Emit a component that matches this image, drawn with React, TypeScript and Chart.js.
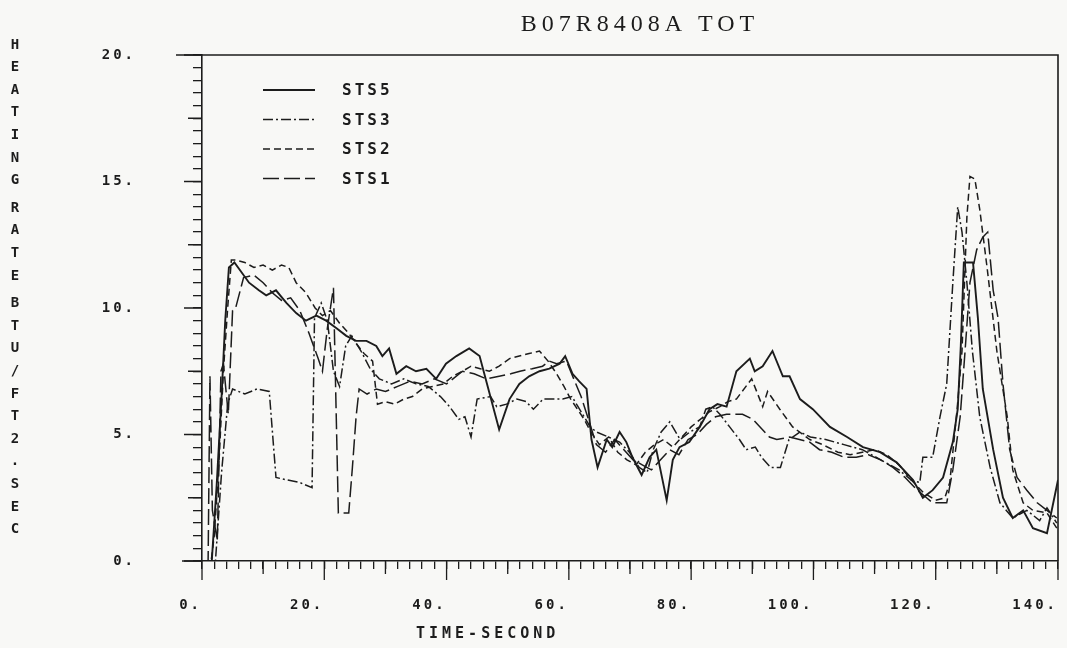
import React, { useEffect, useRef } from 'react';
import { Chart, registerables } from 'chart.js';

Chart.register(...registerables);

const INK = '#1c1c1c';
const PAPER = '#f8f8f6';
const MONO = '"DejaVu Sans Mono", monospace';

const chartTitle = 'B07R8408A TOT';
const xAxisTitle = 'TIME-SECOND';
const yAxisTitle = 'HEATING RATE BTU/FT2.SEC';
const seriesLabels = ['STS5', 'STS3', 'STS2', 'STS1'];
const seriesDashes = [[], [10, 3, 2, 3], [7, 4], [16, 5]];
const xTickLabels = ['0.', '20.', '40.', '60.', '80.', '100.', '120.', '140.'];
const yTickLabels = ['0.', '5.', '10.', '15.', '20.'];

// STS5 (solid)
const sts5Time = [0, 1.6, 2.4, 3.2, 3.8, 4.4, 5.3, 7.7, 9.3, 10.5, 12.1, 13.8, 15.4, 17, 18.7, 20.3, 22, 23.6, 25.2, 26.9, 28.5, 29.5, 30.6, 31.8, 33.4, 35, 36.7, 38.3, 39.9, 41.6, 43.7, 45.4, 48.6, 50.3, 51.9, 53.5, 55.2, 56.8, 58.5, 59.4, 60.6, 61.7, 62.9, 63.7, 64.7, 66.2, 67.1, 68.3, 69.4, 70.4, 71.9, 73.2, 74.3, 76, 77, 78.1, 79.7, 81.4, 83, 84.3, 85.8, 87.4, 89.6, 90.4, 91.7, 93.3, 95, 96.1, 97.8, 99.9, 102.7, 105.5, 108.1, 110.9, 113.6, 116.3, 117.9, 119.5, 121.2, 122.8, 123.6, 124.1, 124.6, 126.1, 126.9, 127.7, 129.4, 131, 132.6, 134.3, 135.9, 138.2, 140];
const sts5Rate = [0, 0, 3, 6.5, 9.5, 11.6, 11.8, 11.0, 10.7, 10.5, 10.7, 10.2, 9.8, 9.5, 9.7, 9.5, 9.2, 8.9, 8.7, 8.7, 8.5, 8.1, 8.4, 7.4, 7.7, 7.5, 7.6, 7.2, 7.8, 8.1, 8.4, 8.1, 5.2, 6.4, 7.0, 7.3, 7.5, 7.6, 7.8, 8.1, 7.4, 7.1, 6.8, 4.8, 3.7, 4.8, 4.5, 5.1, 4.7, 4.1, 3.4, 4.1, 4.4, 2.4, 4.0, 4.5, 4.7, 5.3, 6.0, 6.2, 6.1, 7.5, 8.0, 7.5, 7.7, 8.3, 7.3, 7.3, 6.4, 6.0, 5.3, 4.9, 4.5, 4.3, 3.9, 3.2, 2.5, 2.8, 3.3, 4.7, 6.0, 8.5, 11.8, 11.8, 9.6, 6.8, 4.4, 2.5, 1.7, 2.0, 1.3, 1.1, 3.2];

// STS3 (dash-dot)
const sts3Time = [0, 2.2, 3.2, 4.2, 5, 7, 9, 11, 12.1, 14, 16, 18, 18.4, 19.5, 20.5, 21.5, 22.5, 23.5, 24.5, 26, 27.5, 29, 31, 33, 35, 37, 39, 40.5, 42, 43, 44, 45, 47.2, 48.2, 49.8, 51.5, 53, 54.2, 55.8, 57.5, 59, 60.5, 61.5, 62.5, 63.5, 64.5, 66.5, 68.3, 69.9, 71.5, 72.8, 73.8, 75.1, 76.5, 78.2, 79.8, 81.4, 82.4, 83.5, 84.7, 86.3, 87.9, 89, 90.5, 91.5, 93, 94.6, 96, 97.8, 99.5, 102, 105, 108, 111, 114, 116, 117.4, 117.9, 119.5, 120.7, 121.8, 122.8, 123.6, 124.3, 125.1, 126, 127.2, 128.9, 130.5, 132.6, 134.9, 137, 138.2, 139.8];
const sts3Rate = [0, 0, 3.5, 6.2, 6.8, 6.6, 6.8, 6.7, 3.3, 3.2, 3.1, 2.9, 9.6, 10.2, 9.5, 7.5, 6.9, 8.5, 8.9, 8.3, 7.6, 7.2, 7.0, 7.2, 7.0, 6.9, 6.5, 6.1, 5.6, 5.7, 4.9, 6.4, 6.5, 6.1, 6.2, 6.4, 6.3, 6.0, 6.4, 6.4, 6.4, 6.5, 6.1, 5.7, 5.3, 5.1, 4.9, 4.7, 4.3, 3.7, 3.5, 4.4, 5.1, 5.5, 4.8, 5.1, 5.3, 6.0, 6.1, 5.8, 5.3, 4.8, 4.4, 4.5, 4.1, 3.7, 3.7, 4.8, 5.1, 4.9, 4.8, 4.6, 4.4, 4.0, 3.6, 3.2, 3.1, 4.1, 4.1, 5.7, 7.0, 11.0, 14.0, 13.0, 11.0, 8.3, 5.7, 3.7, 2.3, 1.7, 2.0, 1.6, 2.1, 1.5];

// STS2 (short dash)
const sts2Time = [0, 1.5, 2.0, 2.8, 3.5, 4.2, 4.8, 5.5, 7, 8.5, 10, 11.5, 13, 14.2, 15.4, 17, 18.5, 19.7, 21, 22.5, 24, 25.2, 26.5, 27.9, 28.7, 30, 31.5, 33, 34.4, 36, 37.7, 39.5, 41, 42.6, 44, 45.5, 47, 48.6, 50.3, 51.9, 53.5, 55.2, 56.6, 58, 59.2, 60.3, 61.4, 62.5, 63.6, 65, 66.5, 68, 69.5, 71, 72.5, 74, 75.5, 77, 78.5, 80, 81.5, 83, 84.7, 86, 87.4, 89.9, 91.7, 92.5, 94.5, 96.6, 99.4, 101.5, 104, 106, 108, 110, 112, 114, 116, 118, 120, 121.5, 122.3, 123.5, 124.3, 125.1, 125.6, 126.4, 127.2, 128.4, 130, 131.7, 132.6, 134.3, 135.9, 138.2, 139.8];
const sts2Rate = [0, 0, 1.0, 4.0, 7.5, 10.0, 11.9, 11.9, 11.8, 11.6, 11.7, 11.5, 11.7, 11.6, 11.0, 10.6, 10.0, 9.7, 9.9, 9.4, 9.0, 8.6, 8.2, 7.9, 6.2, 6.3, 6.2, 6.4, 6.5, 6.8, 6.9, 7.0, 7.3, 7.5, 7.7, 7.6, 7.5, 7.7, 8.0, 8.1, 8.2, 8.3, 7.9, 7.4, 6.9, 6.4, 6.0, 5.6, 5.1, 4.6, 4.9, 4.3, 4.0, 3.8, 4.3, 4.6, 4.8, 4.5, 4.9, 5.3, 5.6, 5.9, 6.1, 6.3, 6.4, 7.2, 6.1, 6.7, 6.0, 5.3, 4.8, 4.6, 4.3, 4.2, 4.3, 4.4, 4.2, 3.8, 3.2, 2.7, 2.4, 2.5, 3.1, 6.0, 8.3, 13.6, 15.2, 15.1, 13.9, 11.6, 8.3, 5.7, 3.6, 2.3, 2.0, 1.9, 1.3];

// STS1 (long dash)
const sts1Time = [0, 1.0, 1.3, 1.7, 2.5, 3.1, 3.5, 4.3, 5.0, 5.5, 6.8, 8.5, 10, 11.5, 13, 14.5, 16, 17.5, 19, 19.7, 20.5, 21.5, 22.3, 24, 24.6, 25.2, 25.7, 27, 28.5, 30, 32, 34, 36, 38, 40, 42.6, 44.5, 46.5, 48.6, 50.5, 52, 54, 55.7, 56.8, 58, 59.6, 60.8, 62, 63.2, 64.5, 66, 67.5, 69, 70.5, 72, 73.5, 75, 76.5, 78, 79.5, 81, 82.5, 84, 85.8, 88.4, 90.1, 92.8, 94, 96.1, 99.4, 101, 103, 105, 107, 109, 111, 113, 115, 117, 118.5, 119.5, 121.8, 122.8, 124, 124.8, 125.6, 126.7, 127.7, 128.5, 129.4, 130.2, 131, 132.1, 133.3, 134.9, 136.6, 138.2, 139.8];
const sts1Rate = [0, 0, 7.3, 2.0, 0.8, 7.5, 7.8, 5.8, 9.9, 10.0, 11.2, 11.3, 11.0, 10.6, 10.3, 10.4, 9.9, 9.0, 8.0, 7.5, 9.2, 10.8, 1.9, 1.9, 3.7, 5.7, 6.8, 6.6, 6.8, 6.7, 6.9, 7.1, 7.0, 7.2, 7.0, 7.5, 7.4, 7.2, 7.3, 7.4, 7.5, 7.6, 7.7, 7.9, 7.8, 7.9, 7.2, 6.5, 5.6, 4.6, 4.3, 4.8, 4.4, 4.0, 3.8, 3.6, 4.0, 4.4, 4.2, 4.8, 5.0, 5.4, 5.7, 5.8, 5.8, 5.6, 4.9, 4.8, 4.9, 4.7, 4.4, 4.3, 4.1, 4.1, 4.2, 4.0, 3.7, 3.3, 2.8, 2.5, 2.3, 2.3, 3.6, 5.7, 8.3, 11.0, 12.3, 12.8, 13.0, 10.7, 9.6, 7.0, 4.4, 3.3, 2.8, 2.3, 2.0, 1.7];

const seriesTimes = [sts5Time, sts3Time, sts2Time, sts1Time];
const seriesRates = [sts5Rate, sts3Rate, sts2Rate, sts1Rate];
const seriesWidths = [1.9, 1.5, 1.5, 1.5];

const near = (v: number, step: number) => Math.abs(v / step - Math.round(v / step)) < 1e-6;

const inkPlugin = {
  id: 'ink',
  beforeDraw(chart: any) {
    const ctx = chart.ctx;
    ctx.save();
    ctx.fillStyle = PAPER;
    ctx.fillRect(0, 0, chart.width, chart.height);
    ctx.restore();
    ctx.letterSpacing = '3px';
  },
  afterDraw(chart: any) {
    const ctx = chart.ctx;
    const a = chart.chartArea;
    const xs = chart.scales.x;
    const ys = chart.scales.y;
    ctx.save();
    ctx.letterSpacing = '0px';
    ctx.strokeStyle = INK;
    ctx.fillStyle = INK;
    ctx.setLineDash([]);
    // frame
    ctx.lineWidth = 1.6;
    ctx.beginPath();
    ctx.moveTo(a.left - 26, a.top);
    ctx.lineTo(a.right, a.top);
    ctx.lineTo(a.right, a.bottom);
    ctx.moveTo(a.left - 20, a.bottom);
    ctx.lineTo(a.left, a.bottom);
    ctx.stroke();
    // longer tick marks at 10 / 20 on x, 2.5 / 5 on y
    ctx.lineWidth = 1.3;
    ctx.beginPath();
    for (let v = xs.min; v <= xs.max + 1e-6; v += 10) {
      const px = xs.getPixelForValue(v);
      const len = near(v, 20) ? 19 : 13;
      ctx.moveTo(px, a.bottom);
      ctx.lineTo(px, a.bottom + len);
    }
    for (let v = ys.min; v <= ys.max + 1e-6; v += 2.5) {
      const py = ys.getPixelForValue(v);
      const len = near(v, 5) ? 18 : 14;
      ctx.moveTo(a.left, py);
      ctx.lineTo(a.left - len, py);
    }
    ctx.stroke();

    // title
    ctx.font = '24px "Liberation Serif", serif';
    ctx.letterSpacing = '5px';
    ctx.textAlign = 'center';
    ctx.textBaseline = 'alphabetic';
    ctx.fillText(chartTitle, 640, 31);

    // y axis title, one character per row
    ctx.font = 'bold 14px ' + MONO;
    ctx.letterSpacing = '0px';
    ctx.textAlign = 'center';
    ctx.textBaseline = 'middle';
    let y = 45;
    for (const ch of yAxisTitle) {
      if (ch === ' ') { y += 5; continue; }
      ctx.fillText(ch, 15, y);
      y += 22.6;
    }

    // x axis title
    ctx.font = 'bold 15px ' + MONO;
    ctx.letterSpacing = '4px';
    ctx.textAlign = 'left';
    ctx.fillText(xAxisTitle, 416, 634);

    // legend
    ctx.font = 'bold 16px ' + MONO;
    ctx.letterSpacing = '3px';
    chart.data.datasets.forEach((ds: any, i: number) => {
      const ly = a.top + 35 + i * 29.5;
      ctx.setLineDash(ds.borderDash || []);
      ctx.lineWidth = ds.borderWidth;
      ctx.beginPath();
      ctx.moveTo(a.left + 61, ly);
      ctx.lineTo(a.left + 113, ly);
      ctx.stroke();
      ctx.setLineDash([]);
      ctx.fillText(ds.label, a.left + 140, ly + 1);
    });
    ctx.restore();
  },
};

export default function App() {
  const ref = useRef<HTMLCanvasElement>(null);
  useEffect(() => {
    const canvas = ref.current as HTMLCanvasElement;
    const datasets = seriesLabels.map((label, i) => ({
      label,
      data: seriesTimes[i].map((t, j) => ({ x: t, y: seriesRates[i][j] })),
      borderColor: INK,
      backgroundColor: INK,
      borderWidth: seriesWidths[i],
      borderDash: seriesDashes[i],
      pointRadius: 0,
      tension: 0,
      fill: false,
    }));
    const tickFont = { family: MONO, size: 14, weight: 'bold' };
    const chart = new Chart(canvas, {
      type: 'line',
      data: { datasets },
      options: {
        animation: false,
        responsive: false,
        devicePixelRatio: 1,
        layout: { padding: { left: 62, top: 55, right: 9, bottom: 37 } },
        plugins: { legend: { display: false }, title: { display: false }, tooltip: { enabled: false } },
        scales: {
          x: {
            type: 'linear',
            min: 0,
            max: 140,
            afterFit: (s: any) => { s.height = 50; s.paddingLeft = 0; s.paddingRight = 0; },
            border: { display: true, color: INK, width: 1.6 },
            grid: { display: true, drawOnChartArea: false, drawTicks: true, tickLength: 8, color: INK, lineWidth: 1.3 },
            ticks: {
              stepSize: 2,
              autoSkip: false,
              maxRotation: 0,
              align: 'end',
              padding: 28,
              color: INK,
              font: tickFont,
              callback: (value: any) => {
                const v = Number(value);
                return near(v, 20) ? xTickLabels[Math.round(v / 20)] : '';
              },
            },
          },
          y: {
            type: 'linear',
            min: 0,
            max: 20,
            afterFit: (s: any) => { s.width = 140; s.paddingTop = 0; s.paddingBottom = 0; },
            border: { display: true, color: INK, width: 1.6 },
            grid: { display: true, drawOnChartArea: false, drawTicks: true, tickLength: 9, color: INK, lineWidth: 1.3 },
            ticks: {
              stepSize: 0.5,
              autoSkip: false,
              padding: 57,
              color: INK,
              font: tickFont,
              callback: (value: any) => {
                const v = Number(value);
                return near(v, 5) ? yTickLabels[Math.round(v / 5)] : '';
              },
            },
          },
        },
      },
      plugins: [inkPlugin],
    } as any);
    return () => chart.destroy();
  }, []);
  return (
    <div style={{ position: 'fixed', left: 0, top: 0, width: 1067, height: 648, background: PAPER }}>
      <canvas ref={ref} width={1067} height={648} style={{ display: 'block' }} />
    </div>
  );
}
